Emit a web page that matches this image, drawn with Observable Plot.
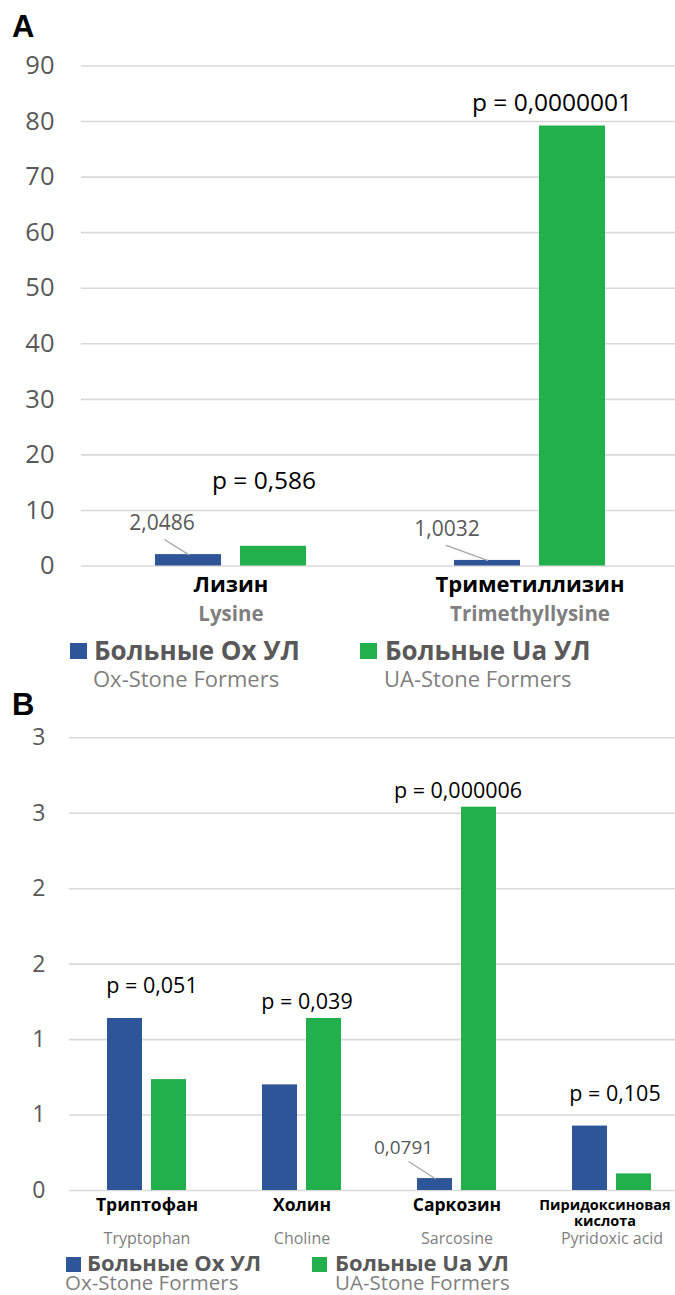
<!DOCTYPE html>
<html>
<head>
<meta charset="utf-8">
<script src="https://cdn.jsdelivr.net/npm/d3@7"></script>
<script src="https://cdn.jsdelivr.net/npm/@observablehq/plot@0.6"></script>
<style>
  body { margin: 0; background: #fff; }
  #page { position: relative; width: 675px; height: 1295px; overflow: hidden; font-family: "Open Sans", sans-serif; }
  .abs { position: absolute; white-space: nowrap; line-height: 1; }
  .panel { position: absolute; left: 0; }
  .panel svg { overflow: visible; }
  .letter { font-family: "Liberation Sans", Arial, sans-serif; font-weight: 700; font-size: 31px; color: #000; }
  .sw { position: absolute; }
</style>
</head>
<body>
<div id="page"></div>
<script>
// ---- Panel A: lysine metabolites ----
const catsA = ["Лизин", "Триметиллизин"];
const catsA_en = ["Lysine", "Trimethyllysine"];
const oxA = [2.0486, 1.0032];
const uaA = [3.55, 79.2];
const pA = ["p = 0,586", "p = 0,0000001"];
const ticksA = [0, 10, 20, 30, 40, 50, 60, 70, 80, 90];

// ---- Panel B: other metabolites ----
const catsB = ["Триптофан", "Холин", "Саркозин", "Пиридоксиновая\nкислота"];
const catsB_en = ["Tryptophan", "Choline", "Sarcosine", "Pyridoxic acid"];
const oxB = [1.14, 0.70, 0.0791, 0.427];
const uaB = [0.735, 1.14, 2.54, 0.11];
const pB = ["p = 0,051", "p = 0,039", "p = 0,000006", "p = 0,105"];
const ticksB = [0, 0.5, 1, 1.5, 2, 2.5, 3];

// Series
const seriesRu = ["Больные Ox УЛ", "Больные Ua УЛ"];
const seriesEn = ["Ox-Stone Formers", "UA-Stone Formers"];
const OX = "#2E5597";
const UA = "#21B04C";

// Bars of the Ox group that carry a value callout
const calloutA = ["Лизин", "Триметиллизин"];
const calloutB = ["Саркозин"];

const fmtVal = v => String(v).replace(".", ",");
const lineShape = { draw(ctx, l) { ctx.moveTo(0, 0); ctx.lineTo(0, -l); } };

const page = document.getElementById("page");

function addText(txt, cls, left, top, size, weight, color) {
  const s = document.createElement("div");
  s.className = "abs " + cls;
  s.textContent = txt;
  s.style.left = left + "px";
  s.style.top = top + "px";
  if (size) s.style.fontSize = size + "px";
  if (weight) s.style.fontWeight = weight;
  if (color) s.style.color = color;
  page.appendChild(s);
}
function addSwatch(color, left, top, w, h) {
  const d = document.createElement("div");
  d.className = "sw";
  Object.assign(d.style, { left: left + "px", top: top + "px", width: w + "px", height: h + "px", background: color });
  page.appendChild(d);
}
function mount(svg, top) {
  const wrap = document.createElement("div");
  wrap.className = "panel";
  wrap.style.top = top + "px";
  wrap.appendChild(svg);
  page.appendChild(wrap);
}

// ---------- Panel A ----------
const rowsA = catsA.map((c, i) => ({ cat: c, en: catsA_en[i], ox: oxA[i], ua: uaA[i], p: pA[i] }));
const pOffA = { "Лизин": [33, -65], "Триметиллизин": [22, -23] };
const callA = {
  "Лизин": { dx: -69, dy: -31.5, len: 28, rot: 122 },
  "Триметиллизин": { dx: -83, dy: -31, len: 44, rot: 110 }
};

const plotA = Plot.plot({
  width: 675,
  height: 630,
  marginTop: 65.5,
  marginBottom: 64.5,
  marginLeft: 81,
  marginRight: 0,
  style: { fontFamily: '"Open Sans", sans-serif', background: "transparent", color: "#595959", overflow: "visible" },
  x: { type: "band", domain: catsA, range: [81, 679], padding: 0, axis: null },
  y: { domain: [0, 90], axis: null },
  marks: [
    Plot.gridY(ticksA, { stroke: "#d9d9d9", strokeOpacity: 1, strokeWidth: 1.6 }),
    Plot.axisY(ticksA, { tickSize: 0, tickPadding: 27, fontSize: 25.5, label: null, color: "#595959" }),
    Plot.barY(rowsA, { x: "cat", y: "ox", fill: OX, dx: -42.5, insetLeft: 116.5, insetRight: 116.5 }),
    Plot.barY(rowsA, { x: "cat", y: "ua", fill: UA, dx: 42.5, insetLeft: 116.5, insetRight: 116.5 }),
    ...rowsA.filter(d => calloutA.includes(d.cat)).flatMap(d => [
      Plot.vector([d], { x: "cat", y: "ox", dx: -42.5, length: callA[d.cat].len, rotate: callA[d.cat].rot,
        anchor: "end", shape: lineShape, stroke: "#a6a6a6", strokeWidth: 1.3 }),
      Plot.text([d], { x: "cat", y: "ox", text: r => fmtVal(r.ox), dx: callA[d.cat].dx, dy: callA[d.cat].dy,
        fontSize: 21, fill: "#595959" })
    ]),
    ...rowsA.map(d => Plot.text([d], { x: "cat", y: r => Math.max(r.ox, r.ua), text: "p",
      dx: pOffA[d.cat][0], dy: pOffA[d.cat][1], fontSize: 24.5, fill: "#000" })),
    Plot.text(rowsA, { x: "cat", text: "cat", frameAnchor: "bottom", lineAnchor: "top", dy: 10,
      fontSize: 22, fontWeight: 700, fill: "#000" }),
    Plot.text(rowsA, { x: "cat", text: "en", frameAnchor: "bottom", lineAnchor: "top", dy: 40,
      fontSize: 20.5, fontWeight: 700, fill: "#7f7f7f" })
  ]
});
mount(plotA, 0);

// ---------- Panel B ----------
const rowsB = catsB.map((c, i) => ({ cat: c, en: catsB_en[i], ox: oxB[i], ua: uaB[i], p: pB[i] }));
const pOffB = { "Триптофан": [5, -32], "Холин": [5, -16], "Саркозин": [1, -16], "Пиридоксиновая\nкислота": [3, -32] };
const callB = { "Саркозин": { dx: -53.5, dy: -31, len: 31, rot: 123 } };

const plotB = Plot.plot({
  width: 675,
  height: 565,
  marginTop: 47.3,
  marginBottom: 65,
  marginLeft: 69,
  marginRight: 0,
  style: { fontFamily: '"Open Sans", sans-serif', background: "transparent", color: "#595959", overflow: "visible" },
  x: { type: "band", domain: catsB, range: [69, 689], padding: 0, axis: null },
  y: { domain: [0, 3], axis: null },
  marks: [
    Plot.gridY(ticksB, { stroke: "#d9d9d9", strokeOpacity: 1, strokeWidth: 1.6 }),
    Plot.axisY(ticksB, { tickSize: 0, tickPadding: 24, fontSize: 23, label: null, color: "#595959",
      tickFormat: d => String(Math.round(d)) }),
    Plot.barY(rowsB, { x: "cat", y: "ox", fill: OX, dx: -22, insetLeft: 60, insetRight: 60 }),
    Plot.barY(rowsB, { x: "cat", y: "ua", fill: UA, dx: 22, insetLeft: 60, insetRight: 60 }),
    ...rowsB.filter(d => calloutB.includes(d.cat)).flatMap(d => [
      Plot.vector([d], { x: "cat", y: "ox", dx: -22, length: callB[d.cat].len, rotate: callB[d.cat].rot,
        anchor: "end", shape: lineShape, stroke: "#a6a6a6", strokeWidth: 1.3 }),
      Plot.text([d], { x: "cat", y: "ox", text: r => fmtVal(r.ox), dx: callB[d.cat].dx, dy: callB[d.cat].dy,
        fontSize: 19, fill: "#595959" })
    ]),
    ...rowsB.map(d => Plot.text([d], { x: "cat", y: r => Math.max(r.ox, r.ua), text: "p",
      dx: pOffB[d.cat][0], dy: pOffB[d.cat][1], fontSize: 21.5, fill: "#000" })),
    Plot.text(rowsB.filter(d => !d.cat.includes("\n")), { x: "cat", text: "cat", frameAnchor: "bottom",
      lineAnchor: "top", dy: 8, fontSize: 17.5, fontWeight: 700, fill: "#000" }),
    Plot.text(rowsB.filter(d => d.cat.includes("\n")), { x: "cat", text: "cat", frameAnchor: "bottom",
      lineAnchor: "top", dy: 9, dx: -7, fontSize: 14.5, lineHeight: 1.05, fontWeight: 700, fill: "#000" }),
    Plot.text(rowsB, { x: "cat", text: "en", frameAnchor: "bottom", lineAnchor: "top", dy: 42,
      fontSize: 16, fill: "#7f7f7f" })
  ]
});
mount(plotB, 690);

// ---------- Panel letters ----------
addText("A", "letter", 12, 10.8);
addText("B", "letter", 12, 688.8);

// ---------- Legends ----------
// Panel A legend
addSwatch(OX, 70, 643, 17, 16);
addText(seriesRu[0], "", 94, 660 - 0.888 * 26, 26, 700, "#595959");
addText(seriesEn[0], "", 93, 687 - 0.888 * 22, 22, 400, "#7f7f7f");
addSwatch(UA, 360, 643, 17, 16);
addText(seriesRu[1], "", 385, 660 - 0.888 * 26, 26, 700, "#595959");
addText(seriesEn[1], "", 384, 687 - 0.888 * 22, 22, 400, "#7f7f7f");

// Panel B legend
addSwatch(OX, 66, 1257, 15, 15);
addText(seriesRu[0], "", 87, 1271 - 0.888 * 22, 22, 700, "#595959");
addText(seriesEn[0], "", 65, 1290.5 - 0.888 * 20.5, 20.5, 400, "#7f7f7f");
addSwatch(UA, 312, 1257, 15, 15);
addText(seriesRu[1], "", 335, 1271 - 0.888 * 22, 22, 700, "#595959");
addText(seriesEn[1], "", 335, 1290.5 - 0.888 * 20.5, 20.5, 400, "#7f7f7f");
</script>
</body>
</html>
